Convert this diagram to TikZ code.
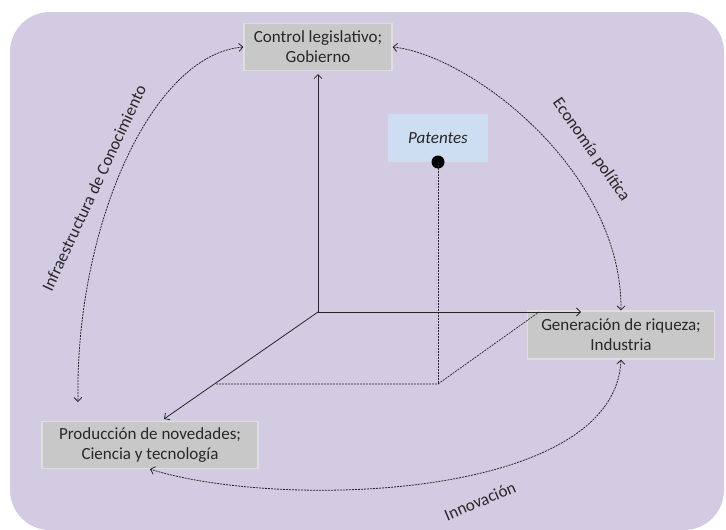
\documentclass[tikz,border=0pt]{standalone}
\usepackage{fontspec}
\setmainfont{Carlito}
\usetikzlibrary{arrows.meta,calc}
\definecolor{bgpurple}{RGB}{211,203,225}
\definecolor{boxgray}{RGB}{200,200,200}
\definecolor{boxedge}{RGB}{222,222,222}
\definecolor{patblue}{RGB}{205,222,242}
\definecolor{ink}{RGB}{40,40,40}
\tikzset{
  sector/.style={fill=boxgray, draw=boxedge, line width=1.2pt, align=center,
    font=\fontsize{17}{20}\selectfont, text=ink, inner sep=0pt},
  axis/.style={draw=black!85, line width=0.8pt, -{Straight Barb[length=4pt,width=8pt]}},
  guide/.style={draw=black!85, line width=0.7pt, dash pattern=on 2pt off 1pt},
  flow/.style={draw=black!85, line width=0.8pt, dash pattern=on 2pt off 1pt,
    {Straight Barb[length=4pt,width=8pt]}-{Straight Barb[length=4pt,width=8pt]}},
  flowlabel/.style={font=\fontsize{17}{20}\selectfont, text=ink, inner sep=0pt}
}
\begin{document}
\begin{tikzpicture}[x=1pt,y=-1pt]
\useasboundingbox (0,0) rectangle (726,530);
\fill[bgpurple, rounded corners=40pt] (10,12) rectangle (724,530);

% sector boxes
\node[sector, minimum width=148pt, minimum height=47pt] (ctrl) at (318,47) {Control legislativo;\\Gobierno};
\node[sector, minimum width=187pt, minimum height=48pt] (gen) at (621,335) {Generación de riqueza;\\Industria};
\node[sector, minimum width=216pt, minimum height=47pt] (prod) at (150,445) {Producción de novedades;\\Ciencia y tecnología};
\node[fill=patblue, minimum width=100pt, minimum height=48pt, inner sep=0pt,
      font=\fontsize{17}{20}\selectfont\itshape, text=ink] (pat) at (438,138) {Patentes};

% axes
\coordinate (o) at (318,312);
\coordinate (xend) at (581,312);
\coordinate (zend) at (164,419);
\draw[axis, shorten >=3pt] (o) -- (ctrl.south);
\draw[axis] (o) -- (xend);
\draw[axis] (o) -- (zend);

% projection of the patent point
\fill[black] (438,162) circle (6.5pt) coordinate (dot);
\coordinate (base) at (438,384);
\coordinate (zproj) at (216,384);
\coordinate (xproj) at (539,312);
\draw[guide] (dot) -- (base);
\draw[guide] (zproj) -- (base) -- (xproj);

% relations between sectors
\coordinate (infraend) at (78,402);
\draw[flow] (ctrl.west) .. controls (150,55) and (75,230) .. (infraend);
\draw[flow] (ctrl.east) .. controls (470,55) and (622,170) .. (gen.north);
\draw[flow] (gen.south) .. controls (615,500) and (280,510) .. (prod.south);

% labels of the relations
\node[flowlabel, rotate=65] (infra) at (94,188) {Infraestructura de Conocimiento};
\node[flowlabel, rotate=-55] (econ) at (591,150) {Economía política};
\node[flowlabel, rotate=23] (innov) at (480,501) {Innovación};
\end{tikzpicture}
\end{document}
